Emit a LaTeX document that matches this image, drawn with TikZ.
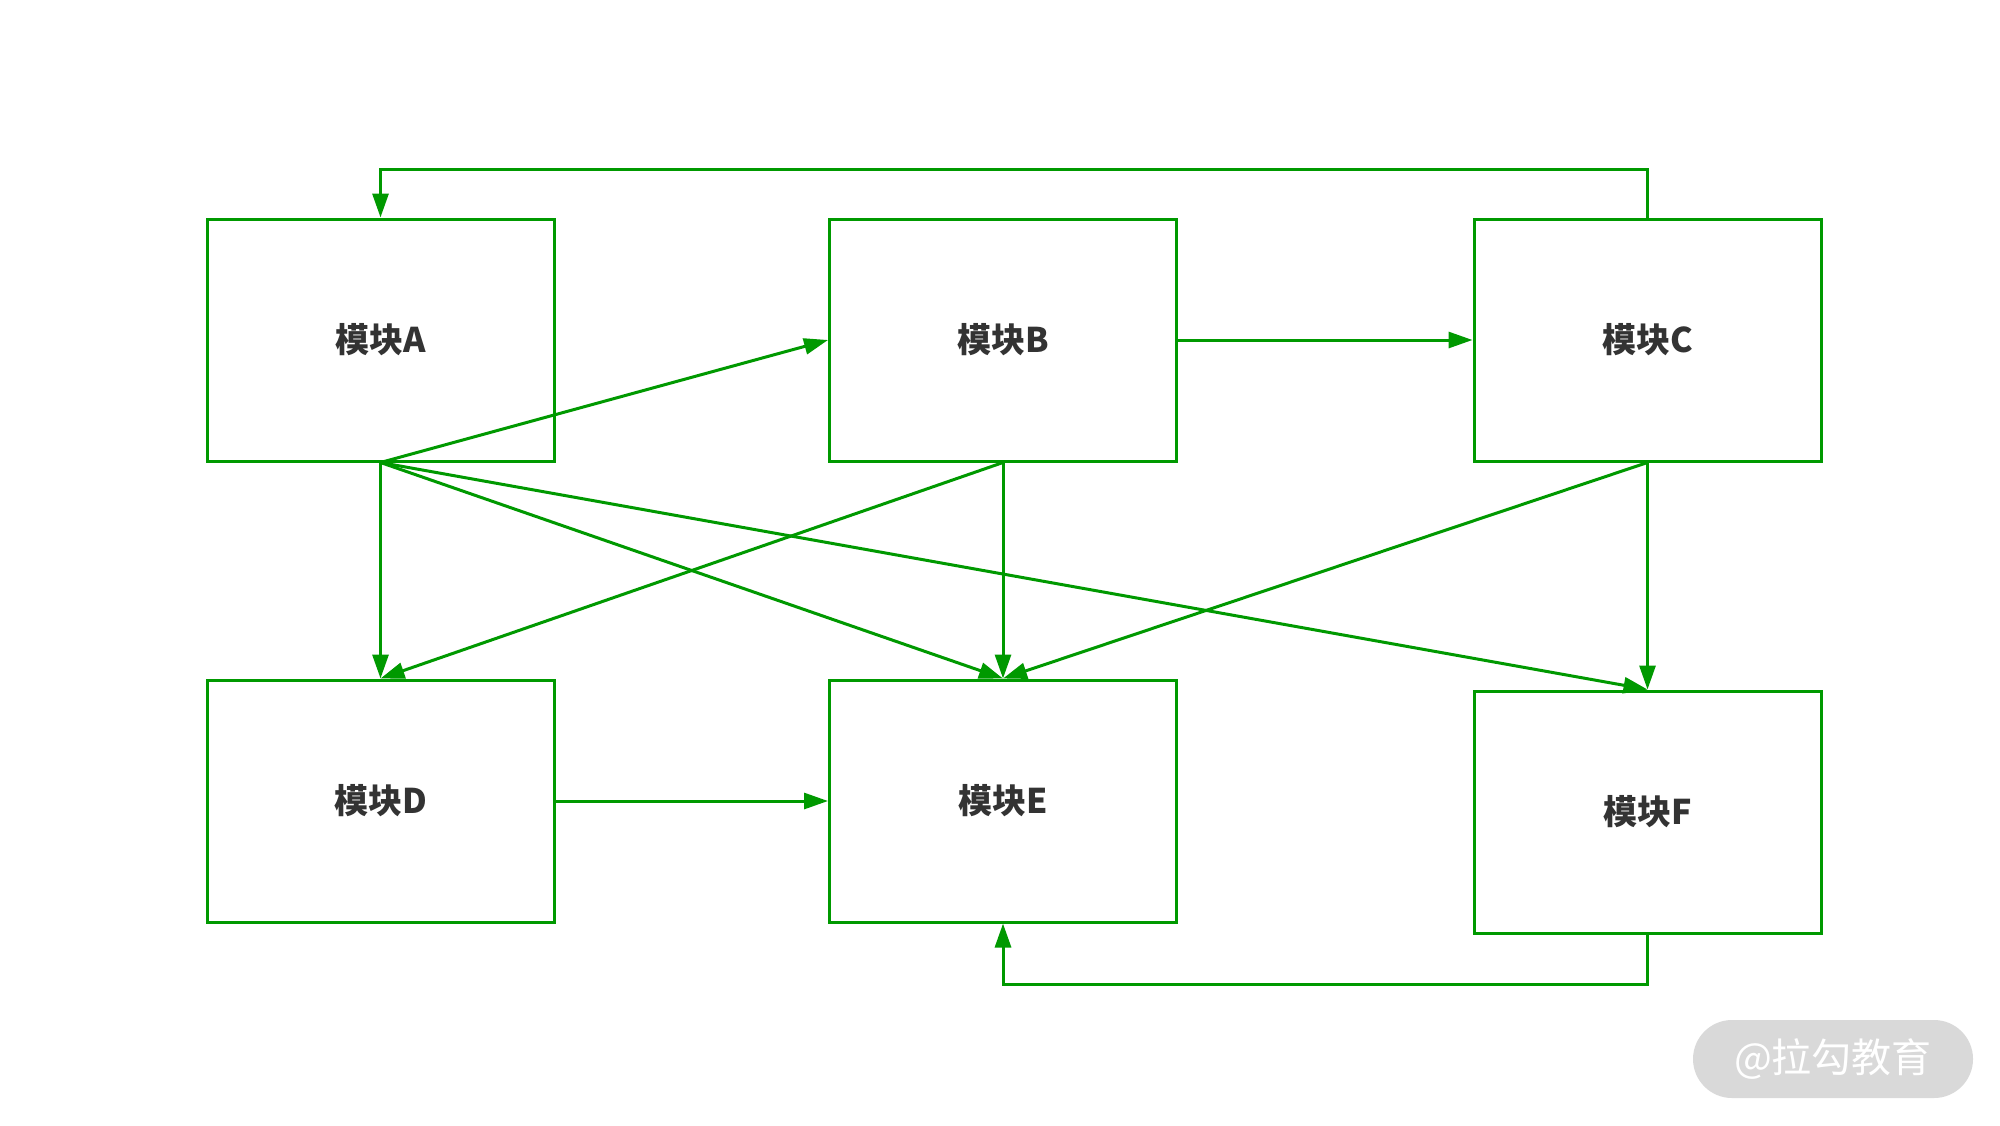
\documentclass[tikz,border=0pt]{standalone}
\usepackage{fontspec}
\newfontfamily\cjk{Noto Sans CJK SC}
\usetikzlibrary{arrows.meta}
\definecolor{lgreen}{RGB}{0,153,0}
\definecolor{ltext}{RGB}{51,51,51}
\definecolor{wmgrey}{RGB}{217,217,217}
\tikzset{
  modbox/.style={draw=lgreen, line width=1.5pt, minimum width=173.5pt, minimum height=121pt, inner sep=0pt, font=\cjk\bfseries\fontsize{17}{18}\selectfont, text=ltext},
  conn/.style={draw=lgreen, line width=1.5pt, -{Triangle[length=12pt,width=8pt]}},
}
\begin{document}
\begin{tikzpicture}[x=0.5pt,y=-0.5pt]
\fill[white] (0,0) rectangle (2000,1125);
\useasboundingbox (0,0) rectangle (2000,1125);
\node[modbox] (A) at (380.5,340) {模块A};
\node[modbox] (B) at (1003,340) {模块B};
\node[modbox] (C) at (1647.5,340) {模块C};
\node[modbox] (D) at (380.5,801) {模块D};
\node[modbox] (E) at (1003,801) {模块E};
\node[modbox] (F) at (1647.5,812) {模块F};
\draw[conn] (C.north) -- ++(0,-48) -| (A.north);
\draw[conn] (B.east) -- (C.west);
\draw[conn] (A.south) -- (B.west);
\draw[conn] (A.south) -- (D.north);
\draw[conn] (A.south) -- (E.north);
\draw[conn] (A.south) -- (F.north);
\draw[conn] (B.south) -- (D.north);
\draw[conn] (B.south) -- (E.north);
\draw[conn] (C.south) -- (E.north);
\draw[conn] (C.south) -- (F.north);
\draw[conn] (D.east) -- (E.west);
\draw[conn] (F.south) -- ++(0,50) -| (E.south);
\node[fill=wmgrey, rounded corners=39*0.5pt, minimum width=140pt, minimum height=39pt, inner sep=0pt, text=white, font=\cjk\fontsize{20}{22}\selectfont] (wm) at (1833,1059) {@拉勾教育};
\end{tikzpicture}
\end{document}
